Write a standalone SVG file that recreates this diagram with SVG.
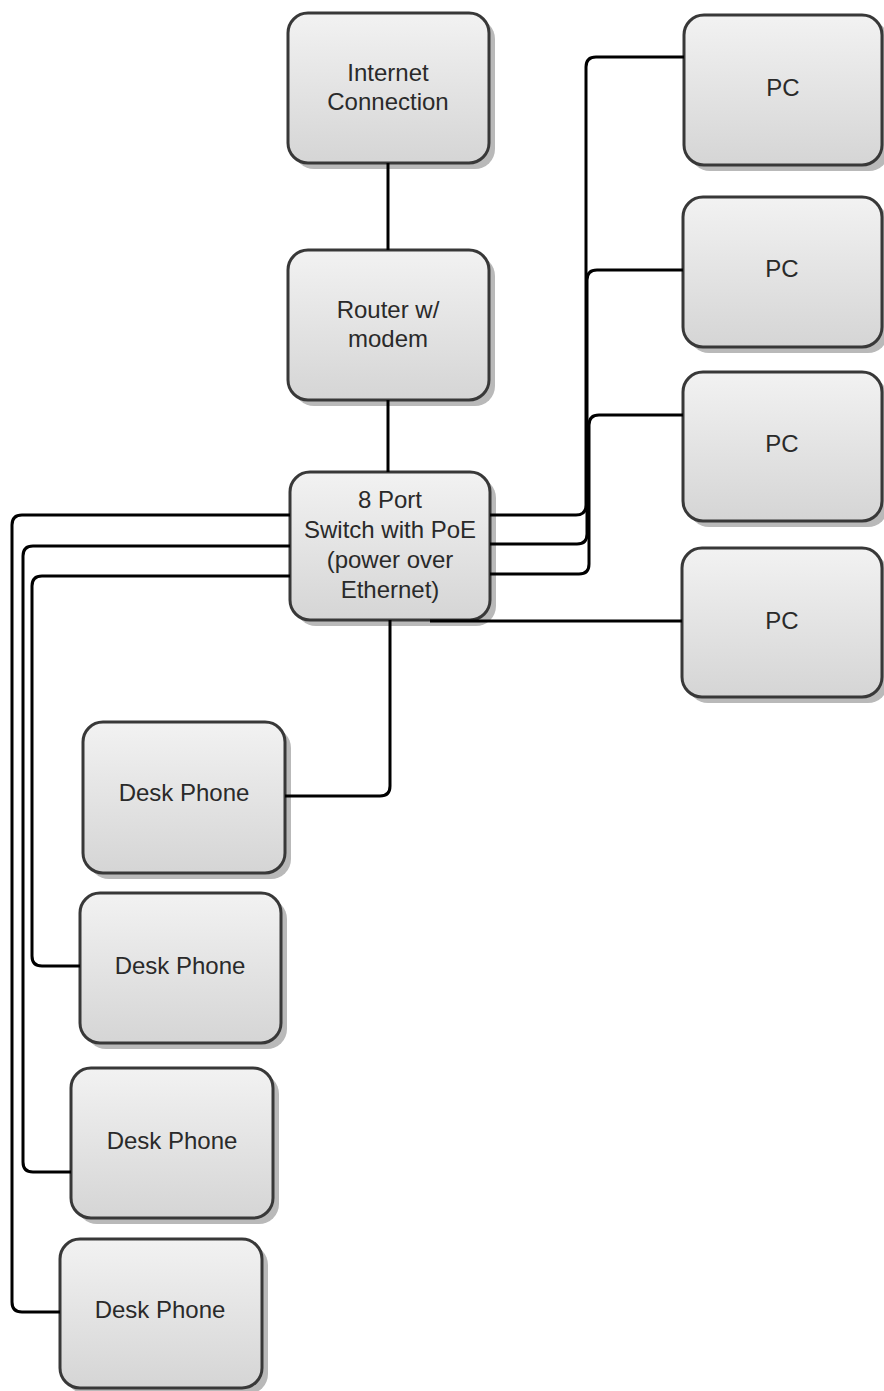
<svg xmlns="http://www.w3.org/2000/svg" width="884" height="1391" viewBox="0 0 884 1391">
<defs>
<linearGradient id="g" x1="0" y1="0" x2="0" y2="1">
<stop offset="0" stop-color="#f2f2f2"/>
<stop offset="1" stop-color="#d5d5d5"/>
</linearGradient>
<style>
.sh{fill:#b9b9b9}
.bx{fill:url(#g);stroke:#383838;stroke-width:3}
.t{font-family:"Liberation Sans",Arial,sans-serif;font-size:24px;fill:#2a2a2a;text-anchor:middle}
.c{fill:none;stroke:#000;stroke-width:3}
</style>
</defs>
<rect width="884" height="1391" fill="#fff"/>

<g id="internet">
<rect class="sh" x="294" y="19" width="201" height="150" rx="20"/>
<rect class="bx" x="288" y="13" width="201" height="150" rx="20"/>
<text class="t" x="388" y="81">Internet</text>
<text class="t" x="388" y="110">Connection</text>
</g>

<g id="router">
<rect class="sh" x="294" y="256" width="201" height="150" rx="20"/>
<rect class="bx" x="288" y="250" width="201" height="150" rx="20"/>
<text class="t" x="388" y="318">Router w/</text>
<text class="t" x="388" y="347">modem</text>
</g>

<g id="switch">
<rect class="sh" x="296" y="478" width="200" height="148" rx="20"/>
<rect class="bx" x="290" y="472" width="200" height="148" rx="20"/>
<text class="t" x="390" y="508">8 Port</text>
<text class="t" x="390" y="538">Switch with PoE</text>
<text class="t" x="390" y="568">(power over</text>
<text class="t" x="390" y="598">Ethernet)</text>
</g>

<g id="pc1">
<rect class="sh" x="690" y="21" width="199" height="150" rx="20"/>
<rect class="bx" x="684" y="15" width="198" height="150" rx="20"/>
<text class="t" x="783" y="96">PC</text>
</g>

<g id="pc2">
<rect class="sh" x="689" y="203" width="199" height="150" rx="20"/>
<rect class="bx" x="683" y="197" width="199" height="150" rx="20"/>
<text class="t" x="782" y="277">PC</text>
</g>

<g id="pc3">
<rect class="sh" x="689" y="378" width="199" height="149" rx="20"/>
<rect class="bx" x="683" y="372" width="199" height="149" rx="20"/>
<text class="t" x="782" y="452">PC</text>
</g>

<g id="pc4">
<rect class="sh" x="688" y="554" width="200" height="149" rx="20"/>
<rect class="bx" x="682" y="548" width="200" height="149" rx="20"/>
<text class="t" x="782" y="629">PC</text>
</g>

<g id="phone1">
<rect class="sh" x="89" y="728" width="202" height="151" rx="20"/>
<rect class="bx" x="83" y="722" width="202" height="151" rx="20"/>
<text class="t" x="184" y="801">Desk Phone</text>
</g>

<g id="phone2">
<rect class="sh" x="86" y="899" width="201" height="150" rx="20"/>
<rect class="bx" x="80" y="893" width="201" height="150" rx="20"/>
<text class="t" x="180" y="974">Desk Phone</text>
</g>

<g id="phone3">
<rect class="sh" x="77" y="1074" width="202" height="150" rx="20"/>
<rect class="bx" x="71" y="1068" width="202" height="150" rx="20"/>
<text class="t" x="172" y="1149">Desk Phone</text>
</g>

<g id="phone4">
<rect class="sh" x="66" y="1245" width="202" height="149" rx="20"/>
<rect class="bx" x="60" y="1239" width="202" height="149" rx="20"/>
<text class="t" x="160" y="1318">Desk Phone</text>
</g>

<g id="connectors">
<path class="c" d="M388,163 V250"/>
<path class="c" d="M388,400 V472"/>
<path class="c" d="M490,515 H576 Q586,515 586,505 V67 Q586,57 596,57 H684"/>
<path class="c" d="M490,544 H577 Q587,544 587,534 V280 Q587,270 597,270 H683"/>
<path class="c" d="M490,574 H579 Q589,574 589,564 V425 Q589,415 599,415 H683"/>
<path class="c" d="M430,621 H682"/>
<path class="c" d="M390,620 V786 Q390,796 380,796 H285"/>
<path class="c" d="M290,515 H22 Q12,515 12,525 V1302 Q12,1312 22,1312 H60"/>
<path class="c" d="M290,546 H33 Q23,546 23,556 V1162 Q23,1172 33,1172 H71"/>
<path class="c" d="M290,576 H42 Q32,576 32,586 V956 Q32,966 42,966 H80"/>
</g>
</svg>
